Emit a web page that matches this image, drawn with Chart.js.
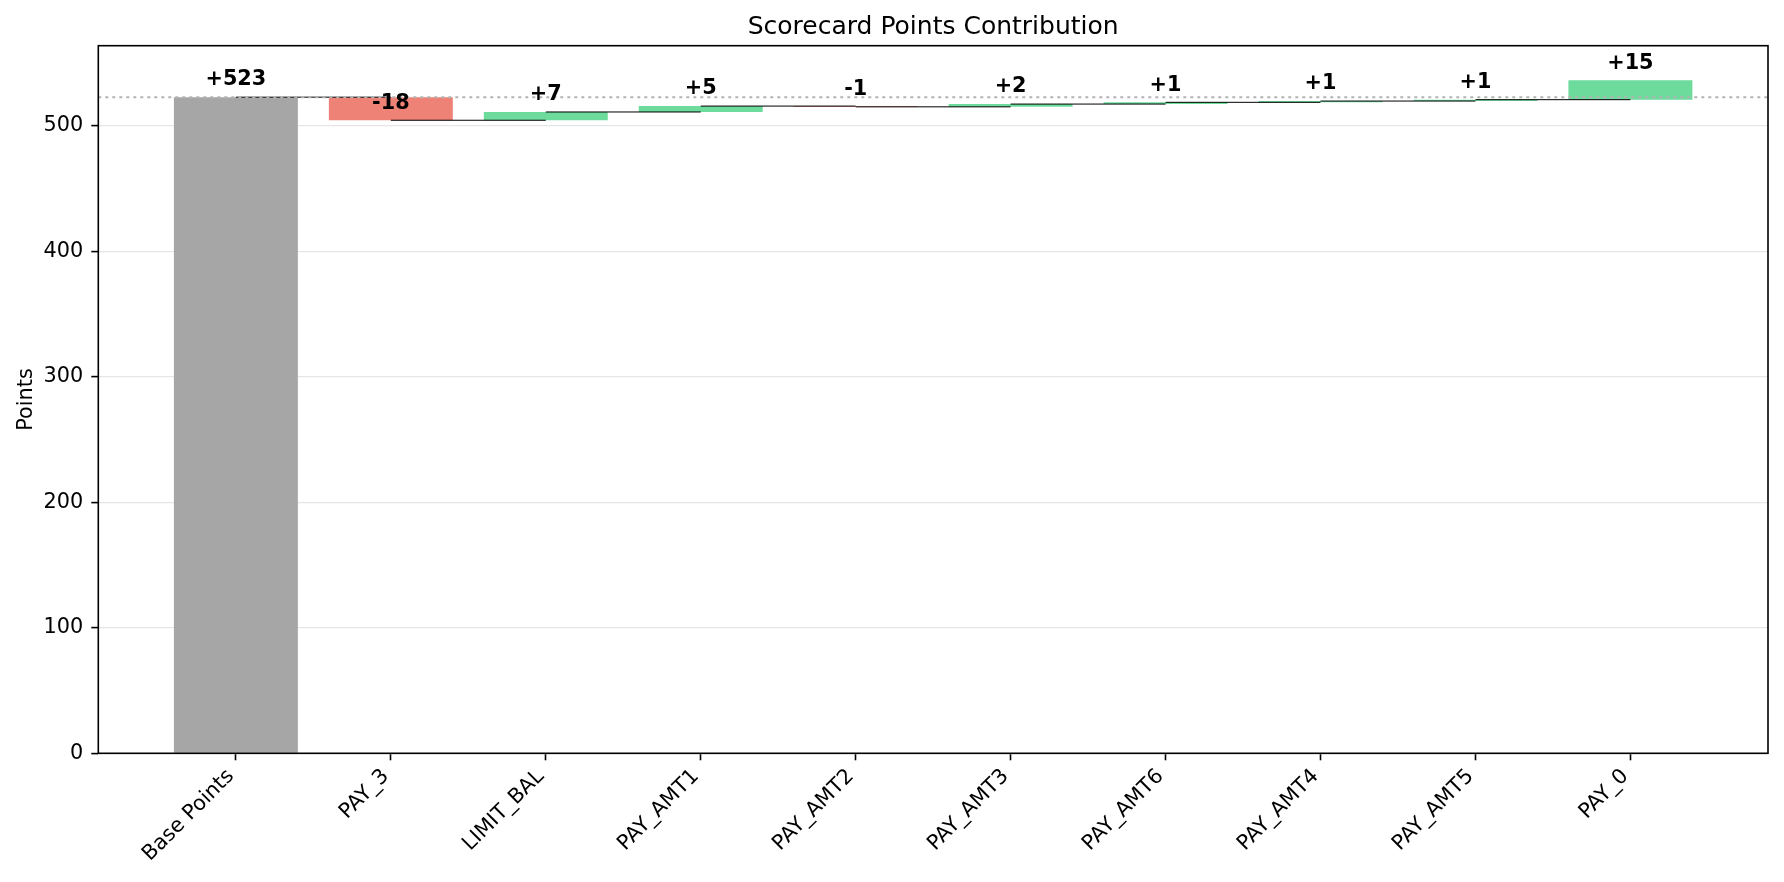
<!DOCTYPE html>
<html>
<head>
<meta charset="utf-8">
<script src="https://cdn.jsdelivr.net/npm/chart.js@4.4.0/dist/chart.umd.min.js"></script>
<style>
  body { margin: 0; background: #fff; }
</style>
</head>
<body>
<canvas id="graficoPontos" width="1784" height="882"></canvas>
<script>
const categorias = ['Base Points', 'PAY_3', 'LIMIT_BAL', 'PAY_AMT1', 'PAY_AMT2', 'PAY_AMT3', 'PAY_AMT6', 'PAY_AMT4', 'PAY_AMT5', 'PAY_0'];
const contribuicoes = [522.7, -18.4, 6.6, 4.7, -0.6, 2.2, 1.4, 1.0, 1.1, 15.4];
const ticksY = [0, 100, 200, 300, 400, 500];
const titulo = 'Scorecard Points Contribution';

const fonte = 'DejaVu Sans';
const corBase = '#a6a6a6';
const corPositivo = '#6ddb9c';
const corNegativo = '#ee8276';

// monta as barras flutuantes [inicio, fim] e o acumulado de cada passo
let acumulado = 0;
const barras = contribuicoes.map((valor, i) => {
  const inicio = i === 0 ? 0 : acumulado;
  acumulado = inicio + valor;
  return { x: i, y: [inicio, acumulado] };
});
const cores = contribuicoes.map((valor, i) => i === 0 ? corBase : (valor >= 0 ? corPositivo : corNegativo));

// linhas que ligam o fim de uma barra ao centro da proxima
const conectores = [];
for (let i = 0; i < barras.length - 1; i++) {
  const nivel = barras[i].y[1];
  conectores.push({
    type: 'line',
    data: [{ x: i, y: nivel }, { x: i + 1, y: nivel }],
    borderColor: '#000',
    borderWidth: 1,
    pointRadius: 0,
    order: 1
  });
}

function formataValor(v) {
  const r = Math.round(v);
  return (r >= 0 ? '+' : '') + r;
}

const pluginExtras = {
  id: 'extras',
  afterDatasetsDraw(chart) {
    const { ctx, chartArea, scales } = chart;
    ctx.save();
    // linha pontilhada no valor base
    const yBase = scales.y.getPixelForValue(contribuicoes[0]);
    ctx.strokeStyle = '#b3b3b3';
    ctx.lineWidth = 2;
    ctx.setLineDash([3, 4]);
    ctx.beginPath();
    ctx.moveTo(chartArea.left, yBase);
    ctx.lineTo(chartArea.right, yBase);
    ctx.stroke();
    ctx.setLineDash([]);

    // moldura
    ctx.strokeStyle = '#000';
    ctx.lineWidth = 1.6;
    ctx.strokeRect(chartArea.left, chartArea.top, chartArea.right - chartArea.left, chartArea.bottom - chartArea.top);

    // rotulos dos valores
    ctx.fillStyle = '#000';
    ctx.font = 'bold 20.8px "' + fonte + '"';
    ctx.textAlign = 'center';
    ctx.textBaseline = 'alphabetic';
    barras.forEach((b, i) => {
      const x = scales.x.getPixelForValue(i);
      const y = scales.y.getPixelForValue(b.y[1]) - 11.7;
      ctx.fillText(formataValor(contribuicoes[i]), x, y);
    });

    // titulo centrado na area do grafico
    ctx.font = '25px "' + fonte + '"';
    ctx.fillText(titulo, (chartArea.left + chartArea.right) / 2, 34.3);
    ctx.restore();
  }
};

const graficoPontos = document.getElementById('graficoPontos');
new Chart(graficoPontos, {
  type: 'bar',
  data: {
    datasets: [{
      type: 'bar',
      data: barras,
      backgroundColor: cores,
      barPercentage: 0.8,
      categoryPercentage: 1,
      order: 2
    }, ...conectores]
  },
  options: {
    responsive: false,
    animation: false,
    devicePixelRatio: 1,
    layout: { padding: { left: 0, right: 16, top: 45.7, bottom: 0 } },
    plugins: {
      legend: { display: false },
      tooltip: { enabled: false },
      title: { display: false }
    },
    scales: {
      x: {
        type: 'linear',
        min: -0.888,
        max: 9.888,
        offset: false,
        afterBuildTicks: (s) => { s.ticks = categorias.map((_, i) => ({ value: i })); },
        afterFit: (s) => { s.height = 128.7; },
        ticks: {
          callback: (v) => categorias[v],
          autoSkip: false,
          maxRotation: 45,
          minRotation: 45,
          color: '#000',
          padding: 4,
          labelOffset: -5,
          font: { family: fonte, size: 20.8 }
        },
        grid: { drawOnChartArea: false, offset: false, tickLength: 7, tickColor: '#000', tickWidth: 1.6 },
        border: { display: false }
      },
      y: {
        min: 0,
        max: 563.7,
        afterBuildTicks: (s) => { s.ticks = ticksY.map((v) => ({ value: v })); },
        afterFit: (s) => { s.width = 98.3; },
        ticks: {
          color: '#000',
          padding: 8,
          font: { family: fonte, size: 20.8 }
        },
        grid: { color: '#e6e6e6', lineWidth: 1.2, tickLength: 7, tickColor: '#000', tickWidth: 1.6 },
        border: { display: false },
        title: {
          display: true,
          text: 'Points',
          color: '#000',
          font: { family: fonte, size: 20.8 },
          padding: { top: 14, bottom: 0 }
        }
      }
    }
  },
  plugins: [pluginExtras]
});
</script>
</body>
</html>
